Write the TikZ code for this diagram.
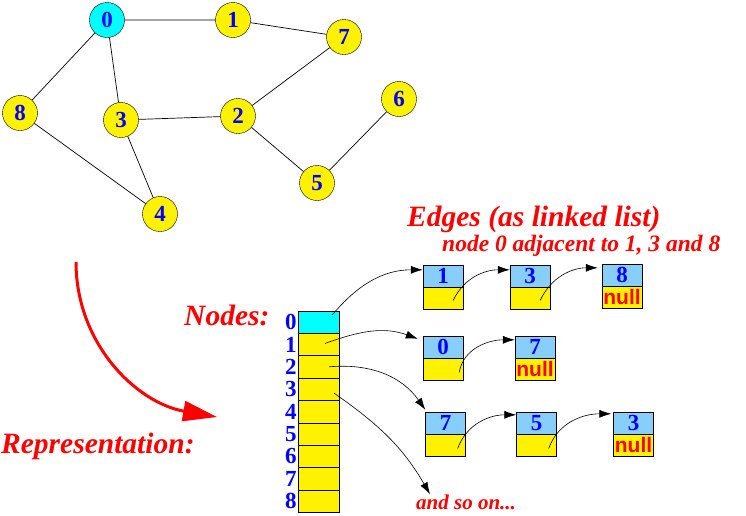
\documentclass[tikz,border=0pt]{standalone}
\usepackage{fontspec}
\setmainfont{Liberation Serif}
\setsansfont{Liberation Sans}
\usetikzlibrary{arrows.meta}
\definecolor{skyblue}{HTML}{87CEFA}
\definecolor{aqua}{HTML}{00FFFF}
\definecolor{digitblue}{HTML}{0000FF}

\begin{document}
\begin{tikzpicture}[x=1pt,y=1pt,
	vertex/.style={circle,draw,fill=yellow,minimum size=35pt,inner sep=0pt,font=\fontsize{23}{23}\selectfont\bfseries,text=digitblue},
	cell/.style={draw,fill=yellow,minimum width=41pt,minimum height=22.4pt,inner sep=0pt},
	index/.style={anchor=east,inner sep=1pt,font=\fontsize{23}{23}\selectfont\bfseries,text=digitblue},
	val/.style={draw,fill=skyblue,minimum width=40pt,minimum height=22pt,inner sep=0pt,font=\fontsize{23}{23}\selectfont\bfseries,text=digitblue},
	nxt/.style={draw,fill=yellow,minimum width=40pt,minimum height=22pt,inner sep=0pt,anchor=north,font=\fontsize{21}{21}\selectfont\sffamily\bfseries,text=red},
	title/.style={anchor=base west,inner sep=0pt,text=red,font=\fontsize{29.5}{29.5}\selectfont\bfseries\itshape},
	ptr/.style={line width=0.6pt,-{Latex[length=12pt,width=8pt]}}]
	\useasboundingbox (0,0) rectangle (746,-515);
	\node[vertex,fill=aqua] (g0) at (107,-20) {0};
	\node[vertex] (g1) at (233,-20) {1};
	\node[vertex] (g7) at (344,-37) {7};
	\node[vertex] (g8) at (20,-113) {8};
	\node[vertex] (g3) at (121,-120) {3};
	\node[vertex] (g2) at (238,-116) {2};
	\node[vertex] (g6) at (399,-99) {6};
	\node[vertex] (g5) at (317,-183) {5};
	\node[vertex] (g4) at (160,-214) {4};
	\draw[line width=0.7pt] (g0)--(g1) (g1)--(g7) (g0)--(g8) (g0)--(g3) (g7)--(g2);
	\draw[line width=0.7pt] (g3)--(g2) (g2)--(g5) (g5)--(g6) (g8)--(g4) (g3)--(g4);
	\node[title] (edges) at (407,-226) {Edges (as linked list)};
	\node[title,font=\fontsize{23.5}{23.5}\selectfont\bfseries\itshape] (adj) at (442,-251) {node 0 adjacent to 1, 3 and 8};
	\node[title] (nodes) at (184,-325) {Nodes:};
	\node[title] (repr) at (1,-453) {Representation:};
	\node[title,font=\fontsize{21}{21}\selectfont\bfseries\itshape] (more) at (416,-509) {and so on...};
	\node[cell,fill=aqua] (c0) at (318.5,-322) {};
	\foreach \i in {1,...,8}
		\node[cell] (c\i) at (318.5,{-322-22.4*\i}) {};
	\foreach \i in {0,...,8}
		\node[index] (i\i) at (c\i.west) {\i};
	\node[val] (r0v1) at (443,-276) {1};
	\node[nxt] (r0p1) at (r0v1.south) {};
	\node[val] (r0v3) at (530,-276) {3};
	\node[nxt] (r0p3) at (r0v3.south) {};
	\node[val] (r0v8) at (622,-275) {8};
	\node[nxt] (r0p8) at (r0v8.south) {null};
	\node[val] (r1v0) at (443,-347) {0};
	\node[nxt] (r1p0) at (r1v0.south) {};
	\node[val] (r1v7) at (535,-347) {7};
	\node[nxt] (r1p7) at (r1v7.south) {null};
	\node[val] (r2v7) at (445.5,-423) {7};
	\node[nxt] (r2p7) at (r2v7.south) {};
	\node[val] (r2v5) at (536.5,-423) {5};
	\node[nxt] (r2p5) at (r2v5.south) {};
	\node[val] (r2v3) at (633.5,-423) {3};
	\node[nxt] (r2p3) at (r2v3.south) {null};
	\draw[ptr] ([xshift=-7pt,yshift=7pt]c0.east) to[out=50,in=180] ([yshift=-5pt]r0v1.north west);
	\draw[ptr] ([xshift=-10pt,yshift=-2pt]r0p1.east) to[out=65,in=180] ([yshift=-5pt]r0v3.north west);
	\draw[ptr] ([xshift=-10pt,yshift=-2pt]r0p3.east) to[out=65,in=180] ([xshift=-4pt,yshift=-4pt]r0v8.north west);
	\draw[ptr] ([xshift=-14pt,yshift=1pt]c1.east) to[out=20,in=160] ([xshift=-5pt,yshift=-3pt]r1v0.north west);
	\draw[ptr] ([xshift=-4pt,yshift=-3pt]r1p0.east) to[out=80,in=180] ([yshift=-4pt]r1v7.north west);
	\draw[ptr] ([xshift=-10pt]c2.east) to[out=5,in=125] ([yshift=2pt]r2v7.north west);
	\draw[ptr] ([xshift=-8pt,yshift=-3pt]r2p7.east) to[out=70,in=180] ([yshift=-3pt]r2v5.north west);
	\draw[ptr] ([xshift=-8pt,yshift=-3pt]r2p5.east) to[out=70,in=180] ([xshift=-2pt,yshift=-2pt]r2v3.north west);
	\draw[ptr] ([xshift=-5pt,yshift=-4pt]c3.east) to[out=-35,in=120] ([xshift=14pt]more.north west);
	\coordinate (bend0) at (76,-262);
	\coordinate (bend1) at (217,-417);
	\draw[red,line width=3pt,-{Triangle[length=34pt,width=20pt]}] (bend0) to[out=-90,in=170] (bend1);
\end{tikzpicture}
\end{document}
